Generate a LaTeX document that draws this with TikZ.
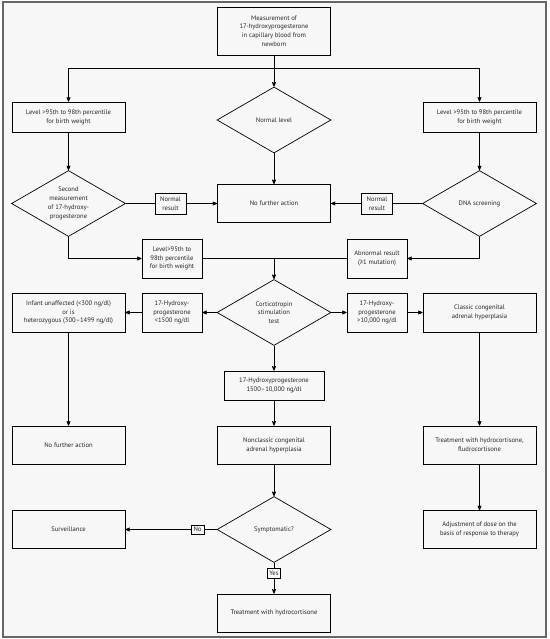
\documentclass[tikz,border=0pt]{standalone}
\usepackage{fontspec}
\setmainfont{PT Sans}
\usetikzlibrary{arrows}
\usetikzlibrary{shapes.geometric}

\begin{document}
\begin{tikzpicture} [x=1pt, y=-1pt, >=stealth', line width=.7pt,
  font=\fontsize{6.6}{8.8}\selectfont, text=black!85,
  box/.style={draw, align=center, inner sep=1pt, minimum width=113, minimum height=38},
  sbox/.style={draw, align=center, inner sep=1pt, minimum width=60, minimum height=39},
  dia/.style={draw, diamond, aspect=1.72, inner sep=0pt, align=center, minimum width=114, minimum height=66},
  tag/.style={draw, align=center, inner sep=.6pt}]
\useasboundingbox (0,0) rectangle (549,639);
\draw[fill=black!3, draw=black!60, line width=1.5pt] (3,2) rectangle (546,637);

% screening
\node[box, minimum height=48] (meas) at (274,31) {Measurement of\\17-hydroxyprogesterone\\in capillary blood from\\newborn};
\coordinate (split) at (274,68);
\node[box, minimum height=30] (levl) at (68.5,117) {Level >95th to 98th percentile\\for birth weight};
\node[box, minimum height=30] (levr) at (479.5,117) {Level >95th to 98th percentile\\for birth weight};
\node[dia] (normal) at (274,120) {Normal level};

\node[dia] (second) at (68.5,203.5) {Second\\measurement\\of 17-hydroxy-\\progesterone};
\node[dia] (dna) at (479.5,203.5) {DNA screening};
\node[box] (nfa) at (274,203.5) {No further action};
\node[tag, minimum width=31, minimum height=21] (nrl) at (170.5,203.5) {Normal\\result};
\node[tag, minimum width=31, minimum height=21] (nrr) at (377,203.5) {Normal\\result};

\node[sbox] (levm) at (172,258.5) {Level>95th to\\98th percentile\\for birth weight};
\node[sbox] (abn) at (377,258.5) {Abnormal result\\(≥1 mutation)};
\coordinate (join) at (274,258.5);

% stimulation test
\node[dia] (cort) at (274,312.5) {Corticotropin\\stimulation\\test};
\node[box, minimum height=39] (infant) at (68.5,312.5) {Infant unaffected (<300 ng/dl)\\or is\\heterozygous (300–1499 ng/dl)};
\node[sbox] (low) at (172,312.5) {17-Hydroxy-\\progesterone\\<1500 ng/dl};
\node[sbox] (high) at (377,312.5) {17-Hydroxy-\\progesterone\\>10,000 ng/dl};
\node[box, minimum height=39] (classic) at (479.5,312.5) {Classic congenital\\adrenal hyperplasia};
\node[box, minimum width=100, minimum height=29] (range) at (274,385.5) {17-Hydroxyprogesterone\\1500–10,000 ng/dl};

\node[box] (nfal) at (68.5,445) {No further action};
\node[box] (noncl) at (274,445) {Nonclassic congenital\\adrenal hyperplasia};
\node[box] (treatr) at (479.5,445) {Treatment with hydrocortisone,\\fludrocortisone};

\node[dia] (symp) at (274,529.5) {Symptomatic?};
\node[box] (surv) at (68.5,529.5) {Surveillance};
\node[box] (adj) at (479.5,529.5) {Adjustment of dose on the\\basis of response to therapy};
\node[tag, minimum width=13, minimum height=9] (no) at (197.5,529.5) {No};
\node[tag, minimum width=13, minimum height=10] (yes) at (274,573) {Yes};
\node[box] (treath) at (274,613) {Treatment with hydrocortisone};

% connectors
\draw (meas) -- (split);
\draw[->] (split) -| (levl);
\draw[->] (split) -| (levr);
\draw[->] (split) -- (normal);
\draw[->] (normal) -- (nfa);
\draw[->] (levl) -- (second);
\draw[->] (levr) -- (dna);
\draw (second) -- (nrl);
\draw[->] (nrl) -- (nfa);
\draw (dna) -- (nrr);
\draw[->] (nrr) -- (nfa);
\draw[->] (second) |- (levm);
\draw[->] (dna) |- (abn);
\draw (levm) -- (abn);
\draw[->] (join) -- (cort);
\draw[->] (cort) -- (low);
\draw[->] (low) -- (infant);
\draw[->] (cort) -- (high);
\draw[->] (high) -- (classic);
\draw[->] (cort) -- (range);
\draw[->] (range) -- (noncl);
\draw[->] (infant) -- (nfal);
\draw[->] (classic) -- (treatr);
\draw[->] (treatr) -- (adj);
\draw[->] (noncl) -- (symp);
\draw (symp) -- (no);
\draw[->] (no) -- (surv);
\draw (symp) -- (yes);
\draw[->] (yes) -- (treath);
\end{tikzpicture}
\end{document}
